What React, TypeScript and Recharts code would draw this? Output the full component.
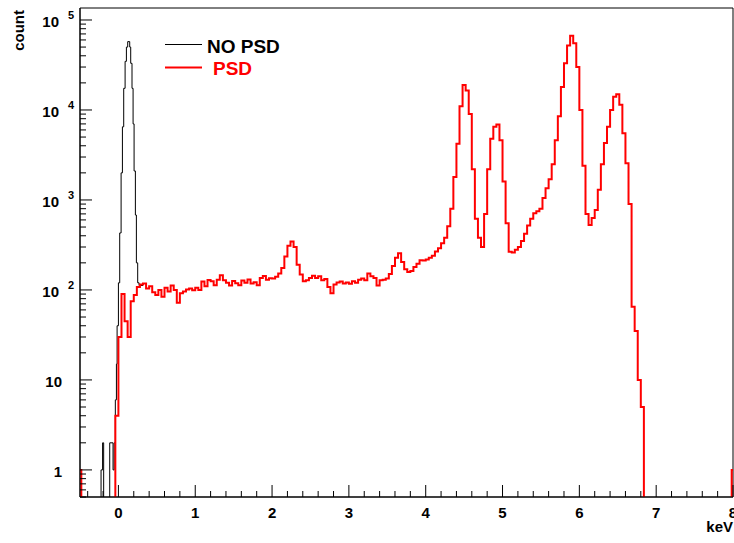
import React from 'react';
import { LineChart, Line, XAxis, YAxis, ReferenceArea } from 'recharts';

const X_MIN = -0.5;
const X_MAX = 8;
const Y_MIN = 0.5;
const Y_MAX = 135900;
const EMPTY = 0.1;

const xMajorTicks = [0, 1, 2, 3, 4, 5, 6, 7, 8];
const yMajorTicks = [1, 10, 100, 1000, 10000, 100000];
const yMajorExponents = ['', '', '2', '3', '4', '5'];
const yMajorBases = ['1', '10', '10', '10', '10', '10'];

// NO PSD (black) histogram: bin left edges and counts
const blackEdges = [
  -0.25, -0.226, -0.206, -0.192, -0.113, -0.07, -0.055, -0.04, -0.026, -0.017, 0.0,
  0.017, 0.035, 0.052, 0.069, 0.087, 0.104, 0.121, 0.147, 0.16, 0.177, 0.191,
  0.204, 0.221, 0.234, 0.251, 0.269, 0.32,
];
const blackCounts = [
  0.1, 1, 2, 0.1, 2, 1, 2, 6, 15, 40, 120,
  430, 2000, 6500, 17400, 34700, 50000, 57500, 50000, 33000, 17400, 7000,
  2100, 680, 200, 120, 112, 112,
];

// PSD (red) histogram: 0.04 keV bins starting at -0.04 keV
const redBinStart = -0.04;
const redBinWidth = 0.04;
const redCounts = [
  4, 30, 90, 45, 30, 75, 88, 108, 115, 118,
  104, 110, 94, 88, 100, 84, 106, 96, 112, 100,
  72, 92, 96, 101, 104, 99, 106, 100, 124, 110,
  129, 125, 113, 130, 146, 128, 120, 112, 126, 119,
  113, 127, 120, 131, 118, 122, 113, 136, 143, 130,
  135, 134, 140, 152, 175, 235, 310, 345, 300, 190,
  148, 125, 128, 136, 144, 136, 142, 128, 132, 108,
  92, 115, 121, 124, 118, 121, 117, 125, 120, 130,
  134, 128, 152, 142, 136, 112, 128, 130, 134, 150,
  185, 228, 255, 205, 170, 158, 162, 180, 196, 214,
  212, 218, 228, 240, 268, 290, 330, 380, 510, 800,
  1800, 4200, 11000, 19000, 16500, 9000, 2200, 620, 380, 300,
  700, 2200, 4800, 6500, 6900, 4600, 1600, 550, 265, 260,
  280, 300, 350, 420, 520, 620, 710, 750, 800, 1050,
  1350, 1700, 2500, 4600, 8500, 18000, 33000, 52000, 67000, 55000,
  30000, 10000, 2400, 700, 527, 630, 775, 1300, 2500, 4300,
  6500, 10000, 14000, 15000, 11400, 5500, 2560, 900, 65, 35,
  10, 5,
];
// red edge bins drawn at the frame borders
const redEdgeBins = [
  { from: -0.5, to: -0.483, count: 1 },
  { from: 7.983, to: 8, count: 1 },
];

const blackPoints = blackEdges.map((x, i) => ({ x, y: blackCounts[i] }));

const redPoints = [
  { x: redEdgeBins[0].from, y: redEdgeBins[0].count },
  { x: redEdgeBins[0].to, y: EMPTY },
  ...redCounts.map((c, i) => ({ x: redBinStart + i * redBinWidth, y: c })),
  { x: redBinStart + redCounts.length * redBinWidth, y: EMPTY },
  { x: redEdgeBins[1].from, y: redEdgeBins[1].count },
  { x: redEdgeBins[1].to, y: redEdgeBins[1].count },
];

const xTicks: number[] = [];
[-1, ...xMajorTicks].forEach((m) => {
  for (let k = 0; k < 5; k++) {
    const v = Math.round((m + k * 0.2) * 10) / 10;
    if (v >= X_MIN && v <= X_MAX && !xTicks.includes(v)) xTicks.push(v);
  }
});

const yTicks: number[] = [];
[0.1, ...yMajorTicks].forEach((d) => {
  for (let k = 1; k <= 9; k++) {
    const v = Math.round(k * d * 1000) / 1000;
    if (v >= Y_MIN && v <= Y_MAX && !yTicks.includes(v)) yTicks.push(v);
  }
});

const FONT = '"Liberation Sans", Arial, Helvetica, sans-serif';

const XTick = (props: any) => {
  const { x, y, payload } = props;
  const v = payload.value as number;
  const major = Math.abs(v - Math.round(v)) < 1e-6;
  return (
    <g>
      <line x1={x} x2={x} y1={y} y2={y - (major ? 12 : 6)} stroke="#000" strokeWidth={1} />
      {major && (
        <text x={x} y={y + 21} textAnchor="middle" fontSize={15} fontWeight="bold" fontFamily={FONT} fill="#000">
          {String(Math.round(v))}
        </text>
      )}
    </g>
  );
};

const YTick = (props: any) => {
  const { x, y, payload } = props;
  const v = payload.value as number;
  const idx = yMajorTicks.findIndex((m) => Math.abs(m - v) < 1e-6);
  const major = idx >= 0;
  let label: React.ReactNode = null;
  if (major) {
    const exp = yMajorExponents[idx];
    if (exp === '') {
      label = (
        <text x={x - 18} y={y + 7} textAnchor="end" fontSize={15} fontWeight="bold" fontFamily={FONT} fill="#000">
          {yMajorBases[idx]}
        </text>
      );
    } else {
      label = (
        <g>
          <text x={x - 21} y={y + 7} textAnchor="end" fontSize={15} fontWeight="bold" fontFamily={FONT} fill="#000">
            {yMajorBases[idx]}
          </text>
          <text x={x - 12} y={y - 1} textAnchor="start" fontSize={11} fontWeight="bold" fontFamily={FONT} fill="#000">
            {exp}
          </text>
        </g>
      );
    }
  }
  return (
    <g>
      <line x1={x} x2={x + (major ? 12 : 6)} y1={y} y2={y} stroke="#000" strokeWidth={1} />
      {label}
    </g>
  );
};

export default function App() {
  return (
    <div style={{ position: 'absolute', left: 0, top: 0, width: 734, height: 543, background: '#fff' }}>
      <LineChart width={734} height={543} margin={{ top: 8, right: 1, bottom: 16, left: 20 }}>
        <XAxis
          type="number"
          dataKey="x"
          domain={[X_MIN, X_MAX]}
          allowDataOverflow
          ticks={xTicks}
          interval={0}
          tickSize={0}
          tickMargin={0}
          tickLine={false}
          tick={(p: any) => <XTick {...p} />}
          axisLine={{ stroke: '#000', strokeWidth: 1 }}
          height={30}
        />
        <YAxis
          type="number"
          scale="log"
          domain={[Y_MIN, Y_MAX]}
          allowDataOverflow
          ticks={yTicks}
          interval={0}
          tickSize={0}
          tickMargin={0}
          tickLine={false}
          tick={(p: any) => <YTick {...p} />}
          axisLine={{ stroke: '#000', strokeWidth: 1 }}
          width={60}
        />
        <ReferenceArea x1={X_MIN} x2={X_MAX} y1={Y_MIN} y2={Y_MAX} fill="none" stroke="#000" strokeWidth={1} fillOpacity={0} />
        <Line
          data={blackPoints}
          dataKey="y"
          type="stepAfter"
          stroke="#000"
          strokeWidth={1}
          dot={false}
          activeDot={false}
          isAnimationActive={false}
        />
        <Line
          data={redPoints}
          dataKey="y"
          type="stepAfter"
          stroke="#ff0000"
          strokeWidth={2}
          dot={false}
          activeDot={false}
          isAnimationActive={false}
        />
        <line x1={165} x2={202} y1={44.5} y2={44.5} stroke="#000" strokeWidth={1} />
        <text x={207} y={53} fontSize={19} fontWeight="bold" fontFamily={FONT} fill="#000">NO PSD</text>
        <line x1={165} x2={202} y1={67.5} y2={67.5} stroke="#ff0000" strokeWidth={2} />
        <text x={213} y={75} fontSize={19} fontWeight="bold" fontFamily={FONT} fill="#ff0000">PSD</text>
        <text transform="translate(24,10) rotate(-90)" textAnchor="end" fontSize={15} fontWeight="bold" fontFamily={FONT} fill="#000">count</text>
        <text x={733} y={532} textAnchor="end" fontSize={15} fontWeight="bold" fontFamily={FONT} fill="#000">keV</text>
      </LineChart>
    </div>
  );
}
